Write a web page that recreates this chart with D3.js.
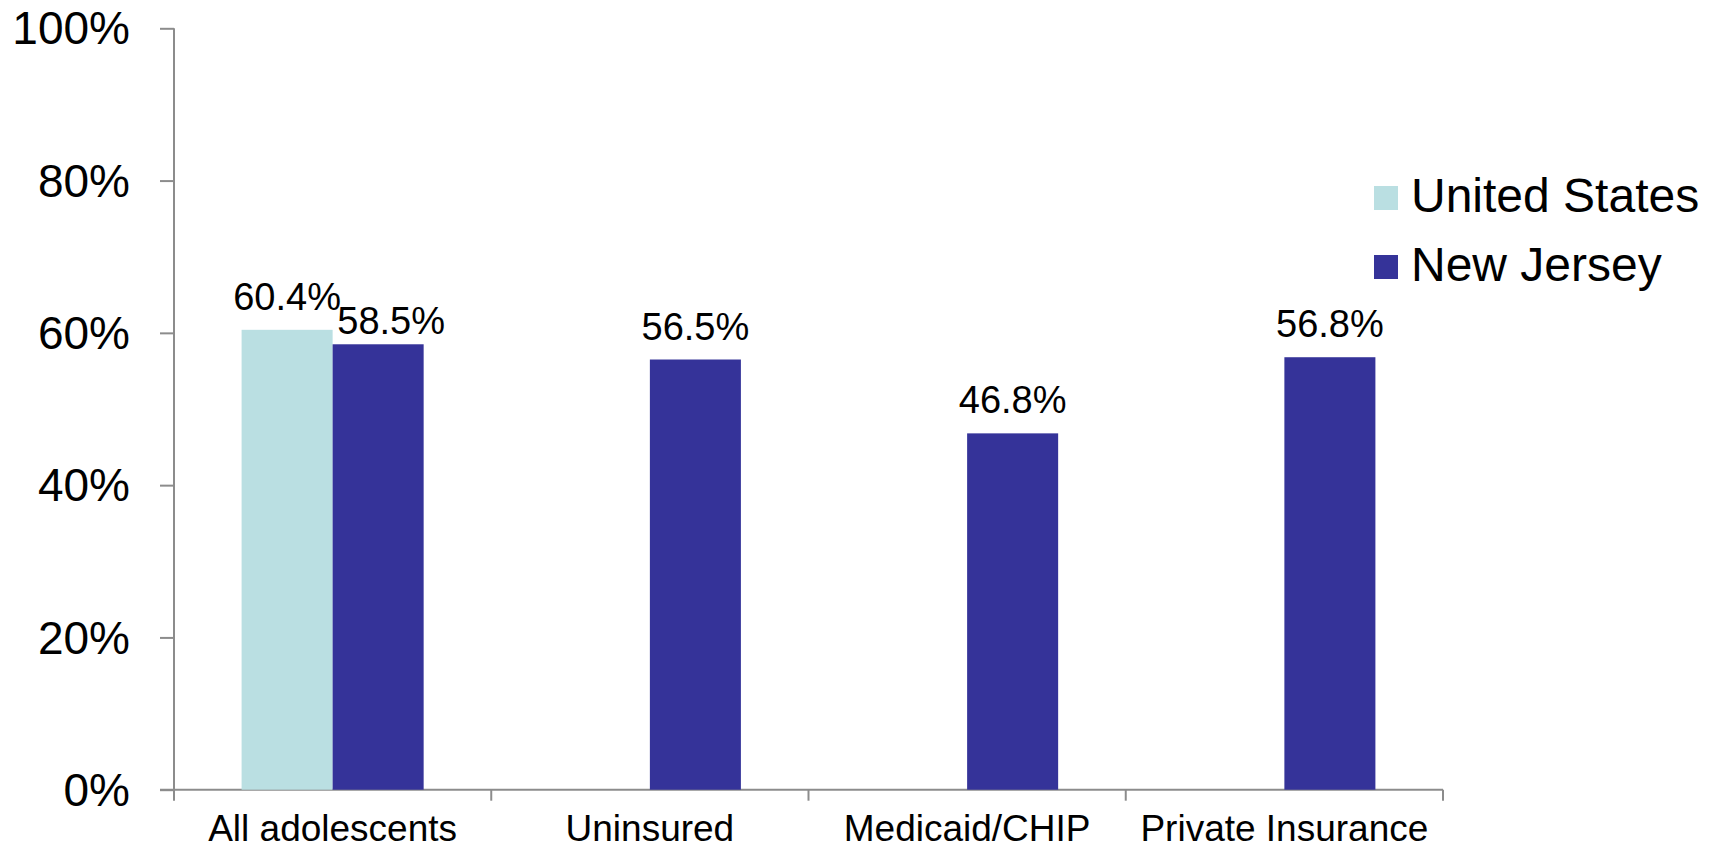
<!DOCTYPE html>
<html>
<head>
<meta charset="utf-8">
<script src="https://cdn.jsdelivr.net/npm/d3@7"></script>
<style>
  body { margin: 0; background: #fff; }
  svg { display: block; font-family: "Liberation Sans", Arial, sans-serif; }
</style>
</head>
<body>
<svg width="1714" height="851"></svg>
<script>
const svg = d3.select('svg');

// data
const categories = ['All adolescents', 'Uninsured', 'Medicaid/CHIP', 'Private Insurance'];
const seriesNames = ['United States', 'New Jersey'];
const usValues = [60.4, null, null, null];
const njValues = [58.5, 56.5, 46.8, 56.8];
const yTicks = [0, 20, 40, 60, 80, 100];

const colors = { 'United States': '#badfe2', 'New Jersey': '#353399' };

const rows = categories.map((c, i) => ({
  category: c,
  values: [
    { series: 'United States', value: usValues[i] },
    { series: 'New Jersey', value: njValues[i] }
  ].filter(d => d.value != null)
}));

const x = d3.scaleBand().domain(categories).range([174, 1443]).padding(0);
const x1 = d3.scaleBand().domain(seriesNames)
  .range([67.6, x.bandwidth() - 67.6]).padding(0);
const y = d3.scaleLinear().domain([0, 100]).range([789.7, 28.3]);

// y axis
const yAxis = svg.append('g').attr('transform', 'translate(174,0)')
  .call(d3.axisLeft(y).tickValues(yTicks).tickSize(14).tickPadding(30)
    .tickFormat(d => d + '%'));
yAxis.select('.domain').attr('stroke', '#8c8c8c').attr('stroke-width', 2)
  .attr('d', `M0,${y(100)}V${y(0)}`);
yAxis.selectAll('.tick line').attr('stroke', '#8c8c8c').attr('stroke-width', 2);
yAxis.selectAll('.tick text').attr('font-size', 46).attr('fill', '#000')
  .attr('font-family', '"Liberation Sans", Arial, sans-serif').attr('dy', '0.34em');

// x axis: ticks on the band edges
const xAxis = svg.append('g').attr('transform', `translate(0,${y(0)})`);
xAxis.append('line').attr('x1', 160).attr('x2', 1443)
  .attr('stroke', '#8c8c8c').attr('stroke-width', 2);
const edges = categories.map(c => x(c)).concat([x.range()[1]]);
xAxis.selectAll('.edge').data(edges).enter().append('line')
  .attr('class', 'edge')
  .attr('x1', d => d).attr('x2', d => d)
  .attr('y1', 0).attr('y2', 11)
  .attr('stroke', '#8c8c8c').attr('stroke-width', 2);
xAxis.selectAll('.cat').data(categories).enter().append('text')
  .attr('class', 'cat')
  .attr('x', d => x(d) + x.bandwidth() / 2)
  .attr('y', 51)
  .attr('text-anchor', 'middle')
  .attr('font-size', 37)
  .text(d => d);

// bars
const groups = svg.selectAll('.group').data(rows).enter().append('g')
  .attr('class', 'group')
  .attr('transform', d => `translate(${x(d.category)},0)`);

groups.selectAll('rect').data(d => d.values).enter().append('rect')
  .attr('x', d => x1(d.series))
  .attr('y', d => y(d.value))
  .attr('width', x1.bandwidth())
  .attr('height', d => y(0) - y(d.value))
  .attr('fill', d => colors[d.series]);

// value labels (the first NJ label is nudged right/down in the original)
groups.selectAll('.val').data((d, i) => d.values.map(v => ({ ...v, cat: i }))).enter()
  .append('text')
  .attr('class', 'val')
  .attr('x', d => x1(d.series) + x1.bandwidth() / 2 + (d.cat === 0 && d.series === 'New Jersey' ? 13 : 0))
  .attr('y', d => y(d.value) - (d.cat === 0 && d.series === 'New Jersey' ? 10 : 20))
  .attr('text-anchor', 'middle')
  .attr('font-size', 38)
  .text(d => d.value.toFixed(1) + '%');

// legend
const legend = svg.append('g').attr('transform', 'translate(1374,186)');
const items = legend.selectAll('g').data(seriesNames).enter().append('g')
  .attr('transform', (d, i) => `translate(0,${i * 69})`);
items.append('rect').attr('width', 24).attr('height', 24)
  .attr('fill', d => colors[d]);
items.append('text').attr('x', 37).attr('y', 26)
  .attr('font-size', 48).text(d => d);
</script>
</body>
</html>
